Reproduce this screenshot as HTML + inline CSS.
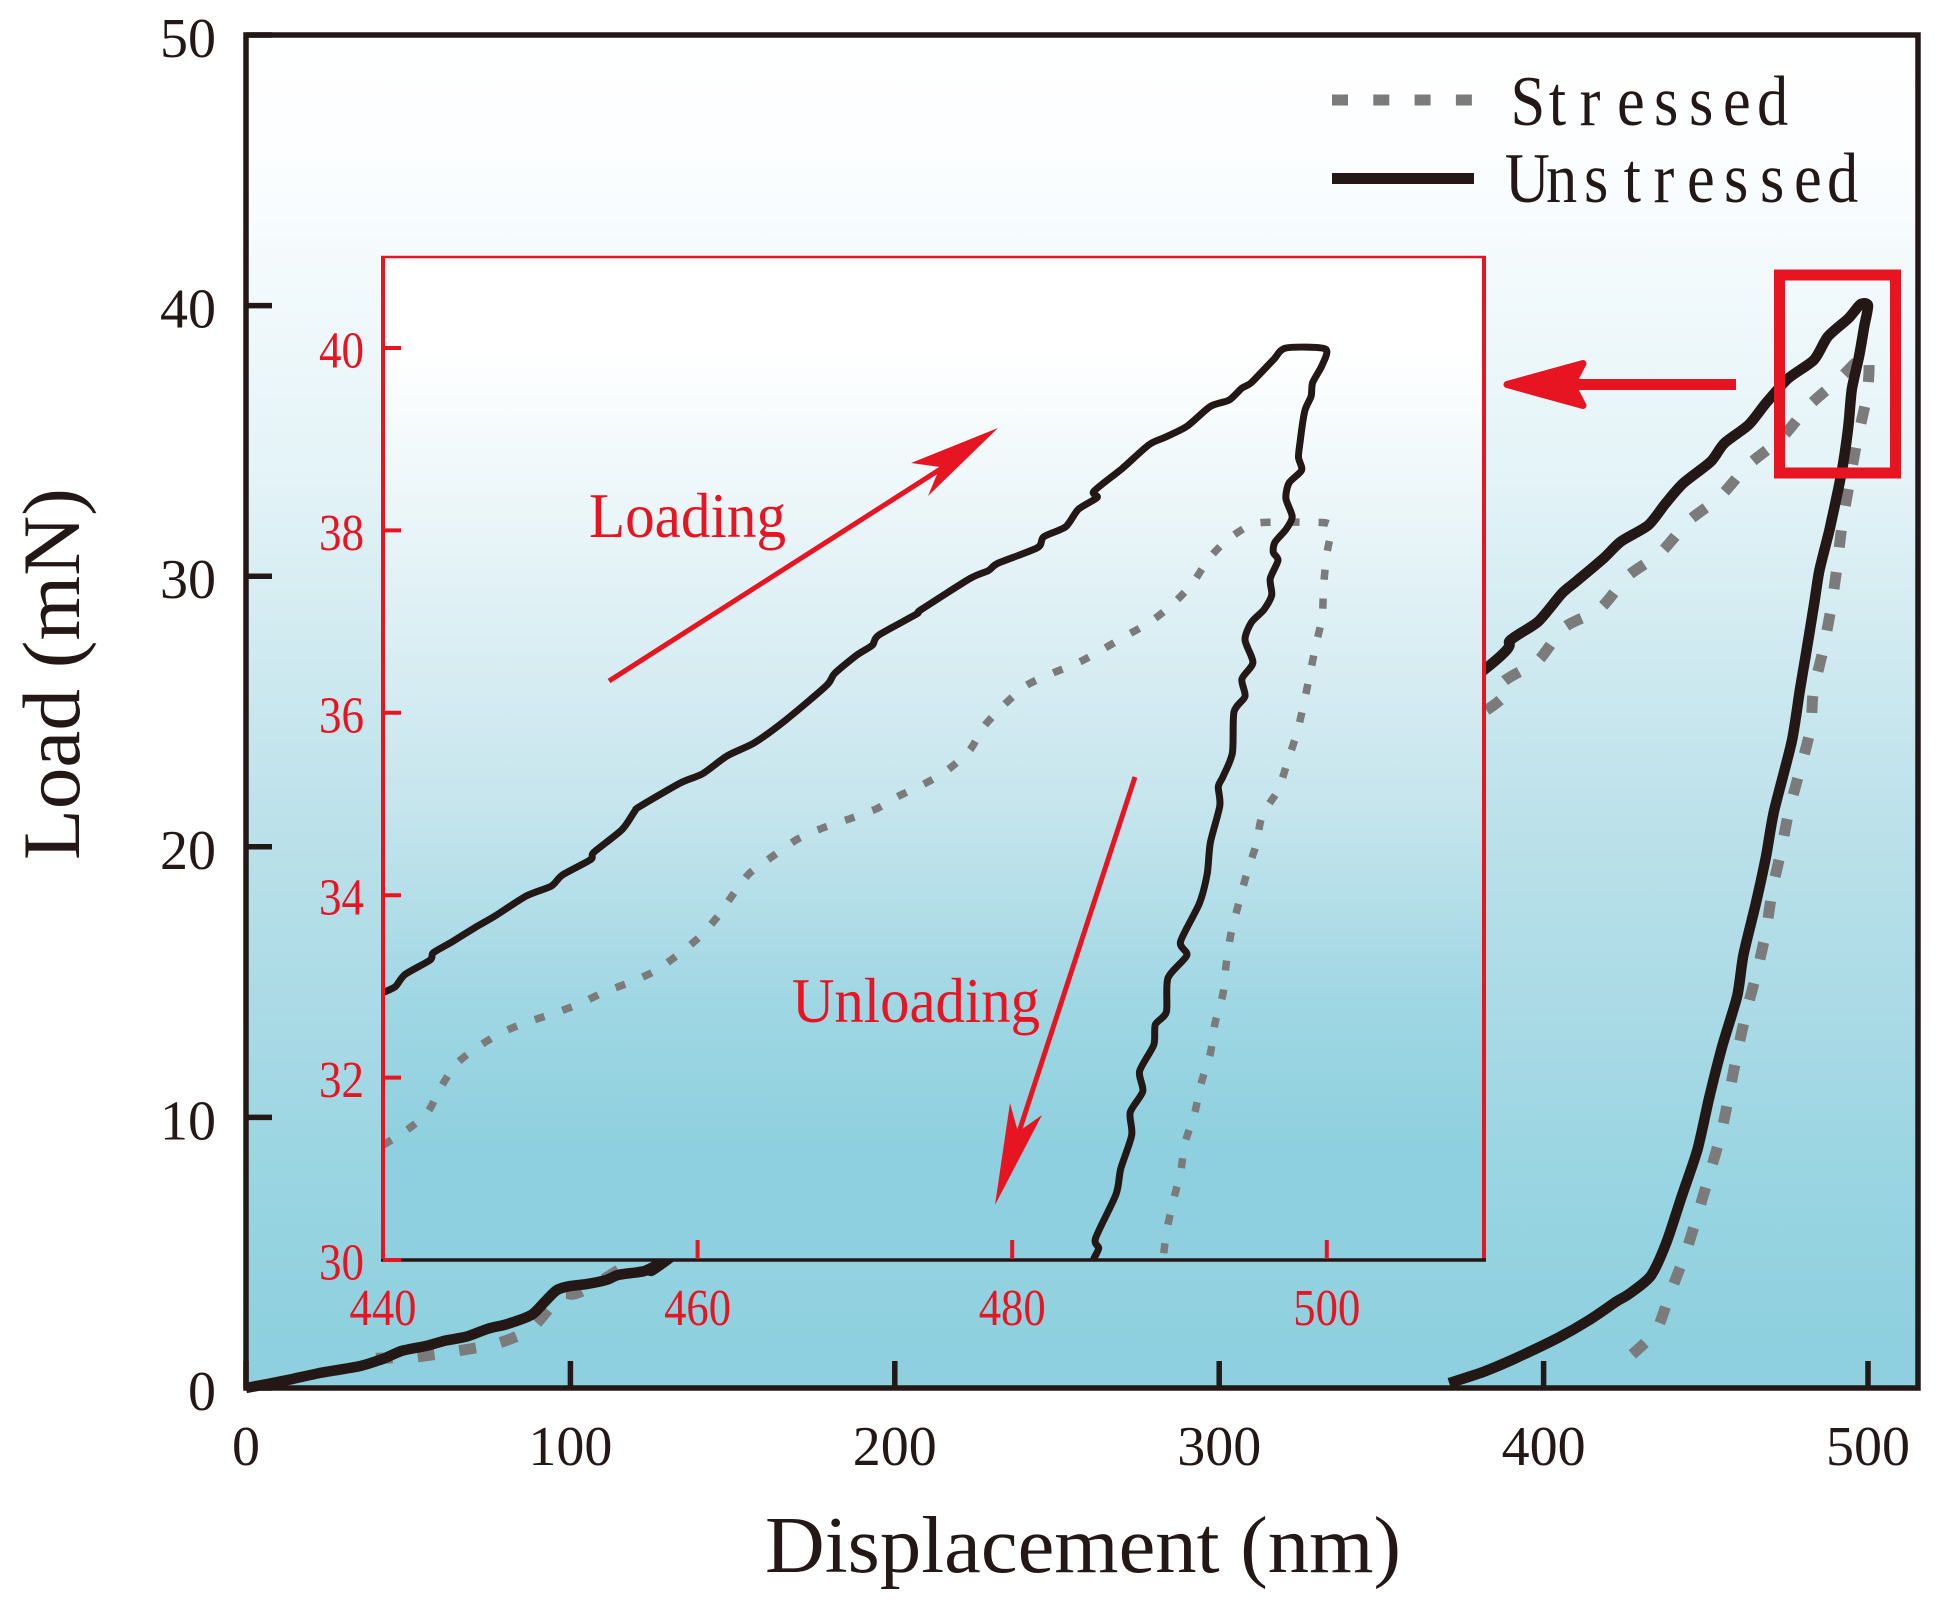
<!DOCTYPE html>
<html lang="en">
<head>
<meta charset="utf-8">
<title>Load vs Displacement</title>
<style>
html,body{margin:0;padding:0;background:#fff;}
svg{display:block;}
text{font-family:"Liberation Serif",serif;}
</style>
</head>
<body>
<svg id="chart" xmlns="http://www.w3.org/2000/svg" width="1941" height="1612" viewBox="0 0 1941 1612">
  <defs>
    <linearGradient id="mainBg" gradientUnits="userSpaceOnUse" x1="0" y1="35" x2="0" y2="1388">
      <stop offset="0" stop-color="#ffffff"/>
      <stop offset="0.085" stop-color="#fcfeff"/>
      <stop offset="0.33" stop-color="#e3f3f7"/>
      <stop offset="0.583" stop-color="#bce1ea"/>
      <stop offset="0.838" stop-color="#9ad5e2"/>
      <stop offset="0.972" stop-color="#8ed0df"/>
      <stop offset="1" stop-color="#8ed0df"/>
    </linearGradient>
    <linearGradient id="insetBg" gradientUnits="userSpaceOnUse" x1="0" y1="257" x2="0" y2="1260">
      <stop offset="0" stop-color="#ffffff"/>
      <stop offset="0.093" stop-color="#ffffff"/>
      <stop offset="0.547" stop-color="#c6e5ed"/>
      <stop offset="0.741" stop-color="#a0d7e4"/>
      <stop offset="0.89" stop-color="#8ed0df"/>
      <stop offset="1" stop-color="#8ed0df"/>
    </linearGradient>
  </defs>
  <rect x="0" y="0" width="1941" height="1612" fill="#ffffff"/>
  <rect x="246" y="35" width="1672" height="1353" fill="url(#mainBg)"/>
  <g id="mainMarks"></g>
  <rect x="383" y="257" width="1101" height="1003" fill="url(#insetBg)"/>
  <g id="insetMarks"></g>
  <g>
    <line x1="381" y1="257" x2="1486" y2="257" stroke="#e71521" stroke-width="2.5"/>
    <line x1="383" y1="257" x2="383" y2="1260" stroke="#e71521" stroke-width="4"/>
    <line x1="1484" y1="257" x2="1484" y2="1260" stroke="#e71521" stroke-width="4"/>
    <line x1="381" y1="1260" x2="1486" y2="1260" stroke="#231815" stroke-width="3.5"/>
  </g>
  <g id="insetAxes"></g>
  <g id="mainAxes"></g>
  <rect x="246" y="35" width="1672" height="1353" fill="none" stroke="#231815" stroke-width="5.5"/>

  <text x="765" y="1572" font-size="80" textLength="636" lengthAdjust="spacingAndGlyphs" fill="#231815">Displacement (nm)</text>
  <text transform="translate(79,860) rotate(-90)" x="0" y="0" font-size="82" textLength="372" lengthAdjust="spacingAndGlyphs" fill="#231815">Load (mN)</text>

  <g>
    <line x1="1332" y1="100" x2="1474" y2="100" stroke="#7b7b7b" stroke-width="11" stroke-dasharray="16 25.3"/>
    <text transform="scale(0.88,1)" x="1716.5 1760 1795 1837.5 1879.5 1919.3 1958 1996.6" y="125" font-size="71" fill="#231815">Stressed</text>
    <line x1="1332" y1="178.5" x2="1474" y2="178.5" stroke="#231815" stroke-width="11"/>
    <text transform="scale(0.88,1)" x="1710 1756.8 1800 1845 1879 1917 1959.1 2000 2038.6 2076.1" y="202" font-size="71" fill="#231815">Unstressed</text>
  </g>

  <rect x="1779.5" y="275" width="116" height="198" fill="none" stroke="#e71521" stroke-width="11"/>
  <g>
    <line x1="1736" y1="384.5" x2="1560" y2="384.5" stroke="#e71521" stroke-width="11"/>
    <polygon points="1507,384.5 1583,363.5 1572,384.5 1583,405.5" fill="#e71521" stroke="#e71521" stroke-width="7" stroke-linejoin="round"/>
  </g>

  <g>
    <text x="589" y="537" font-size="64" textLength="197" lengthAdjust="spacingAndGlyphs" fill="#e71521">Loading</text>
    <line x1="609" y1="681" x2="950" y2="463" stroke="#e71521" stroke-width="5"/>
    <polygon points="998,428 911,463 940,467 928,496" fill="#e71521"/>
  </g>
  <g>
    <text x="792" y="1022" font-size="64" textLength="248" lengthAdjust="spacingAndGlyphs" fill="#e71521">Unloading</text>
    <line x1="1135" y1="777" x2="1018" y2="1135" stroke="#e71521" stroke-width="5"/>
    <polygon points="995,1205 1042,1115 1018,1132 1010,1103" fill="#e71521"/>
  </g>
</svg>
<script>
var mainXTicks = [0, 100, 200, 300, 400, 500];
var mainYTicks = [0, 10, 20, 30, 40, 50];
var insetXTicks = [440, 460, 480, 500];
var insetYTicks = [30, 32, 34, 36, 38, 40];

var mainUnstressed = [[0,0],[11.8,0.27],[23.3,0.57],[34.7,0.8],[42.3,1.08],[48,1.37],[55.7,1.56],[61.4,1.75],[68,1.9],[74.8,2.2],[80.5,2.36],[88,2.7],[92,3.17],[95.7,3.61],[99.5,3.76],[105,3.84],[111,3.99],[114.8,4.18],[122.4,4.31],[126,4.5],[130,4.75],[200,11],[300,19],[382.3,26.6],[389.8,27.64],[398.3,28.32],[405.7,29.37],[410,29.8],[418.5,30.66],[423.8,31.28],[432.3,31.89],[437.6,32.69],[443,33.43],[451.5,34.23],[455.7,34.91],[463.2,35.59],[468.5,36.39],[475.4,37.31],[483.3,37.99],[487.6,38.85],[494,39.53],[497.7,40.05],[500,40],[498.8,39.2],[497.2,38.1],[495,36.9],[494,35.6],[492.4,34.2],[490.8,33.2],[488.1,31.7],[485,30.2],[483.3,28.9],[480.7,27],[479,25.8],[476.5,23.9],[471,21.3],[468.5,19.6],[465.4,17.9],[461.6,16],[459.7,14.5],[455,12.6],[451,10.7],[447.4,8.8],[442.5,7.06],[437.8,5.36],[433,4.14],[426.3,3.47],[422.5,3.2],[413.9,2.5],[404.4,1.85],[391,1.08],[381.5,0.6],[370.9,0.18]];

var mainStressed = [[40,1.1],[51.9,1.14],[65.2,1.37],[77.6,1.65],[88,2.2],[97.6,3.46],[110,4],[200,11],[300,19],[383,25.1],[387.6,26.1],[398.3,26.88],[406.3,28.1],[417.4,28.8],[425.9,30],[436,30.86],[444.8,32.05],[454.4,32.94],[463,34.1],[473.3,35.1],[481.8,36.3],[490.8,37.25],[499.7,38.2],[499.8,36.8],[496.6,35],[494,33.26],[491.9,31.8],[490.3,30.2],[488.5,28.75],[486,27.2],[483.1,25.7],[482,24.2],[475.8,21.4],[473.3,19.9],[470.5,18.4],[468.6,16.9],[465.8,15.4],[462.5,13.9],[459.7,12.4],[457.4,11],[454.9,9.5],[451.4,8],[447.8,6.55],[443.8,5],[439,3.5],[434.5,2.09],[424.9,0.98],[423,0.7]];

var insetUnstressed = [[440.1,32.94],[440.8,33],[441.4,33.13],[443,33.29],[443.2,33.37],[444.4,33.49],[445.9,33.65],[447.1,33.77],[449.1,33.99],[450.7,34.1],[451.4,34.22],[453.2,34.39],[453.4,34.47],[455.2,34.72],[456,34.92],[456.3,34.97],[458.9,35.23],[460.3,35.33],[461.9,35.53],[463.6,35.67],[465.6,35.92],[468.2,36.3],[468.7,36.43],[470.1,36.63],[471.1,36.74],[471.5,36.85],[473.9,37.08],[474.2,37.13],[477.3,37.47],[478.5,37.56],[479.1,37.64],[481.6,37.81],[482,37.93],[483.4,38.04],[484.2,38.23],[485.4,38.36],[485.2,38.43],[487,38.68],[488.7,38.94],[489.7,39.02],[491.1,39.14],[492.6,39.36],[493.8,39.43],[494.6,39.56],[495.2,39.62],[496.6,39.87],[497.4,40],[499.9,39.99],[499.7,39.81],[499.1,39.62],[499,39.47],[498.6,39.31],[498.3,38.97],[498.2,38.8],[498.4,38.66],[497.6,38.52],[497.4,38.35],[497.8,38.15],[497.4,38.01],[496.7,37.87],[496.6,37.76],[496.9,37.67],[496.4,37.47],[496.5,37.29],[496,37.13],[495.2,36.99],[494.8,36.8],[495.3,36.55],[494.6,36.37],[494.8,36.18],[494.1,36.01],[494,35.56],[493.4,35.3],[493.1,35.19],[493.2,34.98],[492.6,34.58],[492.4,34.24],[491.9,33.91],[490.7,33.49],[491.1,33.34],[489.9,33.09],[489.8,32.72],[489.1,32.58],[489,32.36],[488.1,32.07],[488.3,31.85],[487.5,31.62],[487.6,31.37],[486.9,31],[486.6,30.72],[485.3,30.24],[485.5,30.13],[485.2,30.02]];

var insetStressed = [[440,31.26],[441.4,31.41],[442.8,31.61],[443.6,31.87],[444.6,32.14],[445.9,32.32],[447.5,32.49],[449.2,32.61],[450.8,32.7],[452.5,32.81],[454.1,32.94],[455.8,33.05],[457.3,33.17],[458.7,33.34],[460.1,33.54],[461.3,33.77],[462.3,34.02],[463.3,34.24],[464.8,34.43],[466.4,34.62],[468,34.74],[469.7,34.84],[471.4,34.95],[472.7,35.08],[474.4,35.22],[475.8,35.36],[477.3,35.59],[478.2,35.85],[479.5,36.09],[480.9,36.3],[482.5,36.43],[484.2,36.55],[485.8,36.7],[487.3,36.85],[488.8,37],[490.2,37.19],[491.5,37.43],[492.5,37.69],[493.7,37.9],[495.3,38.07],[497,38.09],[498.7,38.09],[500,38.08],[500.3,38.02],[500,37.74],[499.8,37.4],[499.7,37.05],[499.3,36.74],[498.9,36.4],[498.5,36.07],[498.1,35.78],[497.5,35.46],[496.9,35.15],[495.9,34.88],[495.5,34.55],[494.9,34.23],[494.4,33.91],[493.9,33.57],[493.6,33.24],[493.4,32.92],[492.9,32.6],[492.6,32.27],[492,31.93],[491.6,31.61],[491,31.29],[490.7,30.96],[490.2,30.62],[489.8,30.3],[489.6,30.02]];

var NS = 'http://www.w3.org/2000/svg';
function mainX(v){ return 246 + v * 3.244; }
function mainY(v){ return 1388 - v * 27.06; }
function insetX(v){ return 383 + (v - 440) * 15.73; }
function insetY(v){ return 1260 - (v - 30) * 91.2; }

function make(tag, parentId, props){
  var el = document.createElementNS(NS, tag);
  for (var k in props) { el.setAttribute(k, props[k]); }
  document.getElementById(parentId).appendChild(el);
  return el;
}
function pathFrom(series, fx, fy){
  var pts = series.map(function(p){ return [fx(p[0]), fy(p[1])]; });
  var d = 'M' + pts[0][0].toFixed(1) + ' ' + pts[0][1].toFixed(1);
  for (var i = 0; i < pts.length - 1; i++) {
    var p0 = pts[Math.max(i - 1, 0)], p1 = pts[i], p2 = pts[i + 1], p3 = pts[Math.min(i + 2, pts.length - 1)];
    var c1x = p1[0] + (p2[0] - p0[0]) / 8, c1y = p1[1] + (p2[1] - p0[1]) / 8;
    var c2x = p2[0] - (p3[0] - p1[0]) / 8, c2y = p2[1] - (p3[1] - p1[1]) / 8;
    d += ' C' + c1x.toFixed(1) + ' ' + c1y.toFixed(1) + ' ' + c2x.toFixed(1) + ' ' + c2y.toFixed(1) + ' ' + p2[0].toFixed(1) + ' ' + p2[1].toFixed(1);
  }
  return d;
}

var s1 = make('path', 'mainMarks', {d: pathFrom(mainStressed, mainX, mainY), fill: 'none', stroke: '#7b7b7b', 'stroke-width': 11, 'stroke-dasharray': '17 25'});


var s2 = make('path', 'mainMarks', {d: pathFrom(mainUnstressed, mainX, mainY), fill: 'none', stroke: '#231815', 'stroke-width': 10.5, 'stroke-linejoin': 'round', 'stroke-linecap': 'butt'});


var s3 = make('path', 'insetMarks', {d: pathFrom(insetStressed, insetX, insetY), fill: 'none', stroke: '#7b7b7b', 'stroke-width': 7.5, 'stroke-dasharray': '10 19'});


var s4 = make('path', 'insetMarks', {d: pathFrom(insetUnstressed, insetX, insetY), fill: 'none', stroke: '#231815', 'stroke-width': 7, 'stroke-linejoin': 'round', 'stroke-linecap': 'round'});



mainXTicks.forEach(function(v){
  var x = mainX(v);
  var t = make('line', 'mainAxes', {x1: x, x2: x, y1: 1388, y2: 1361, stroke: '#231815', 'stroke-width': 5.5});
  
  
  var s = String(v);
  var l = make('text', 'mainAxes', {x: x, y: 1465, 'font-size': 56, 'text-anchor': 'middle', fill: '#231815', textLength: 28 * s.length, lengthAdjust: 'spacingAndGlyphs'});
  l.textContent = s;
  
  
});
mainYTicks.forEach(function(v){
  var y = mainY(v);
  var t = make('line', 'mainAxes', {x1: 246, x2: 272, y1: y, y2: y, stroke: '#231815', 'stroke-width': 5.5});
  
  
  var s = String(v);
  var l = make('text', 'mainAxes', {x: 216, y: y + 22, 'font-size': 56, 'text-anchor': 'end', fill: '#231815', textLength: 28 * s.length, lengthAdjust: 'spacingAndGlyphs'});
  l.textContent = s;
  
  
});
insetXTicks.forEach(function(v){
  var x = insetX(v);
  var t = make('line', 'insetAxes', {x1: x, x2: x, y1: 1259, y2: 1240, stroke: '#e71521', 'stroke-width': 4});
  
  
  var l = make('text', 'insetAxes', {x: x, y: 1325, 'font-size': 52, 'text-anchor': 'middle', fill: '#e71521', textLength: 67, lengthAdjust: 'spacingAndGlyphs'});
  l.textContent = String(v);
  
  
});
insetYTicks.forEach(function(v){
  var y = insetY(v);
  var t = make('line', 'insetAxes', {x1: 383, x2: 401, y1: y, y2: y, stroke: '#e71521', 'stroke-width': 4});
  
  
  var l = make('text', 'insetAxes', {x: 364, y: y + 19.5, 'font-size': 52, 'text-anchor': 'end', fill: '#e71521', textLength: 45, lengthAdjust: 'spacingAndGlyphs'});
  l.textContent = String(v);
  
  
});
</script>
</body>
</html>
